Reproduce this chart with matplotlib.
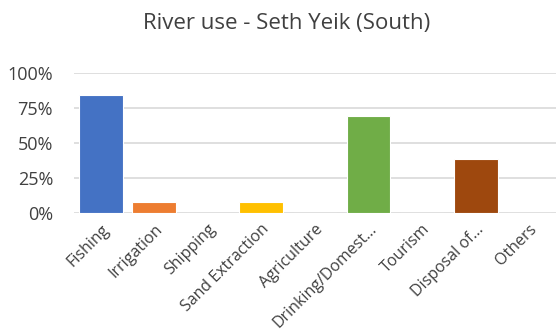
import matplotlib
matplotlib.use("Agg")
import matplotlib.pyplot as plt
from matplotlib.ticker import PercentFormatter

categories = ["Fishing", "Irrigation", "Shipping", "Sand Extraction", "Agriculture",
              "Drinking/Domest\u2026", "Tourism", "Disposal of\u2026", "Others"]
values = [84.6, 7.7, 0, 7.7, 0, 69.2, 0, 38.5, 0]
colors = ["#4472C4", "#ED7D31", "#A5A5A5", "#FFC000", "#5B9BD5",
          "#70AD47", "#264478", "#9E480E", "#636363"]
title = "River use - Seth Yeik (South)"

plt.rcParams['font.family'] = ['Open Sans', 'DejaVu Sans']
fig = plt.figure(figsize=(5.56, 3.32), dpi=100)
ax = fig.add_axes([0.133, 0.358, 0.867, 0.422])
x = range(len(categories))
ax.bar(x, values, width=0.82, color=colors, edgecolor="white", linewidth=0.8, zorder=3)
ax.set_ylim(0, 100)
ax.set_xlim(-0.5, len(categories) - 0.5)
ax.set_yticks([0, 25, 50, 75, 100])
ax.yaxis.set_major_formatter(PercentFormatter(decimals=0))
ax.grid(axis="y", color="#D9D9D9", linewidth=1.2, zorder=0)
for s in ax.spines.values():
    s.set_visible(False)
ax.tick_params(length=0, colors="#404040", labelsize=13)
ax.tick_params(axis="y", pad=15)
ax.set_xticks(list(x))
ax.set_xticklabels(categories, rotation=45, ha="right", va="top", rotation_mode="anchor", fontsize=11.5)
ax.tick_params(axis="x", pad=6)
fig.text(0.515, 0.93, title, ha="center", va="center", fontsize=16, color="#404040")
fig.savefig("out.png", dpi=100)
